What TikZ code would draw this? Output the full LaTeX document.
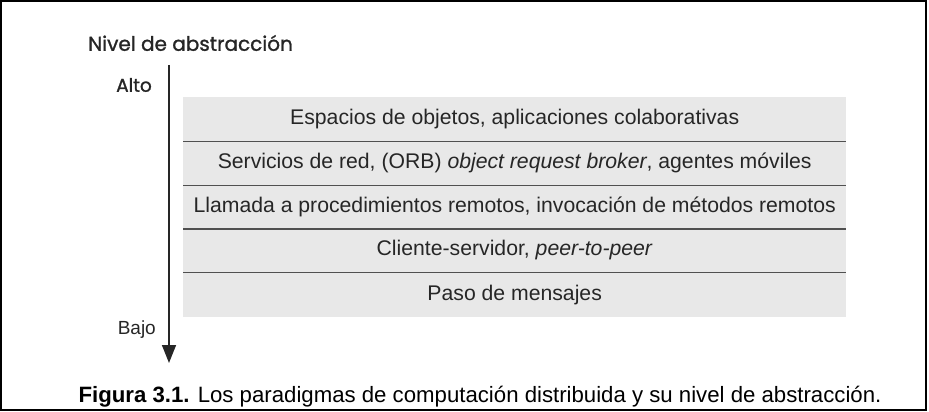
\documentclass[tikz,border=0pt]{standalone}
\usepackage{fontspec}
\setmainfont{Liberation Sans}
\newfontfamily\gothic[FakeBold=1.2]{Poppins}
\usetikzlibrary{arrows.meta}
\definecolor{bandgray}{HTML}{E8E8E8}
\definecolor{linegray}{HTML}{505050}
\begin{document}
\begin{tikzpicture}[x=1pt,y=-1pt,
  rowbox/.style={fill=bandgray,draw=none,minimum width=663pt,minimum height=44pt,inner sep=0pt,anchor=north west,font=\fontsize{21.2}{24}\selectfont,text=black!85},
  divider/.style={draw=linegray,line width=1.6pt},
  axis/.style={draw=black!85,line width=1.5pt,-{Triangle[width=14pt,length=18pt]}},
  lbl/.style={inner sep=0pt,text=black!85}]
\useasboundingbox (0,0) rectangle (929,412);
\draw[line width=2pt] (1,1) rectangle (926,410);
\node[lbl,font=\gothic\fontsize{20}{22}\selectfont,anchor=west] (title) at (88,43) {Nivel de abstracción};
\node[lbl,font=\gothic\fontsize{18.5}{20}\selectfont,anchor=east] (alto) at (152,85) {Alto};
\node[lbl,font=\fontsize{19}{20}\selectfont,anchor=east] (bajo) at (156,330) {Bajo};
\coordinate (atop) at (169,65);
\coordinate (abot) at (169,363);
\draw[axis] (atop) -- (abot);
\node[rowbox] (r1) at (183,97) {Espacios de objetos, aplicaciones colaborativas};
\node[rowbox] (r2) at (183,141) {Servicios de red, (ORB) \textit{object request broker}, agentes móviles};
\node[rowbox] (r3) at (183,184.5) {Llamada a procedimientos remotos, invocación de métodos remotos};
\node[rowbox] (r4) at (183,228) {Cliente-servidor, \textit{peer-to-peer}};
\node[rowbox,minimum height=45pt] (r5) at (183,272) {Paso de mensajes};
\draw[divider] (r1.south west) -- (r1.south east);
\draw[divider] (r2.south west) -- (r2.south east);
\draw[divider] (r3.south west) -- (r3.south east);
\draw[divider] (r4.south west) -- (r4.south east);
\node[inner sep=0pt,font=\fontsize{22.2}{24}\selectfont] (caption) at (480,397) {\textbf{Figura 3.1.} Los paradigmas de computación distribuida y su nivel de abstracción.};
\end{tikzpicture}
\end{document}
